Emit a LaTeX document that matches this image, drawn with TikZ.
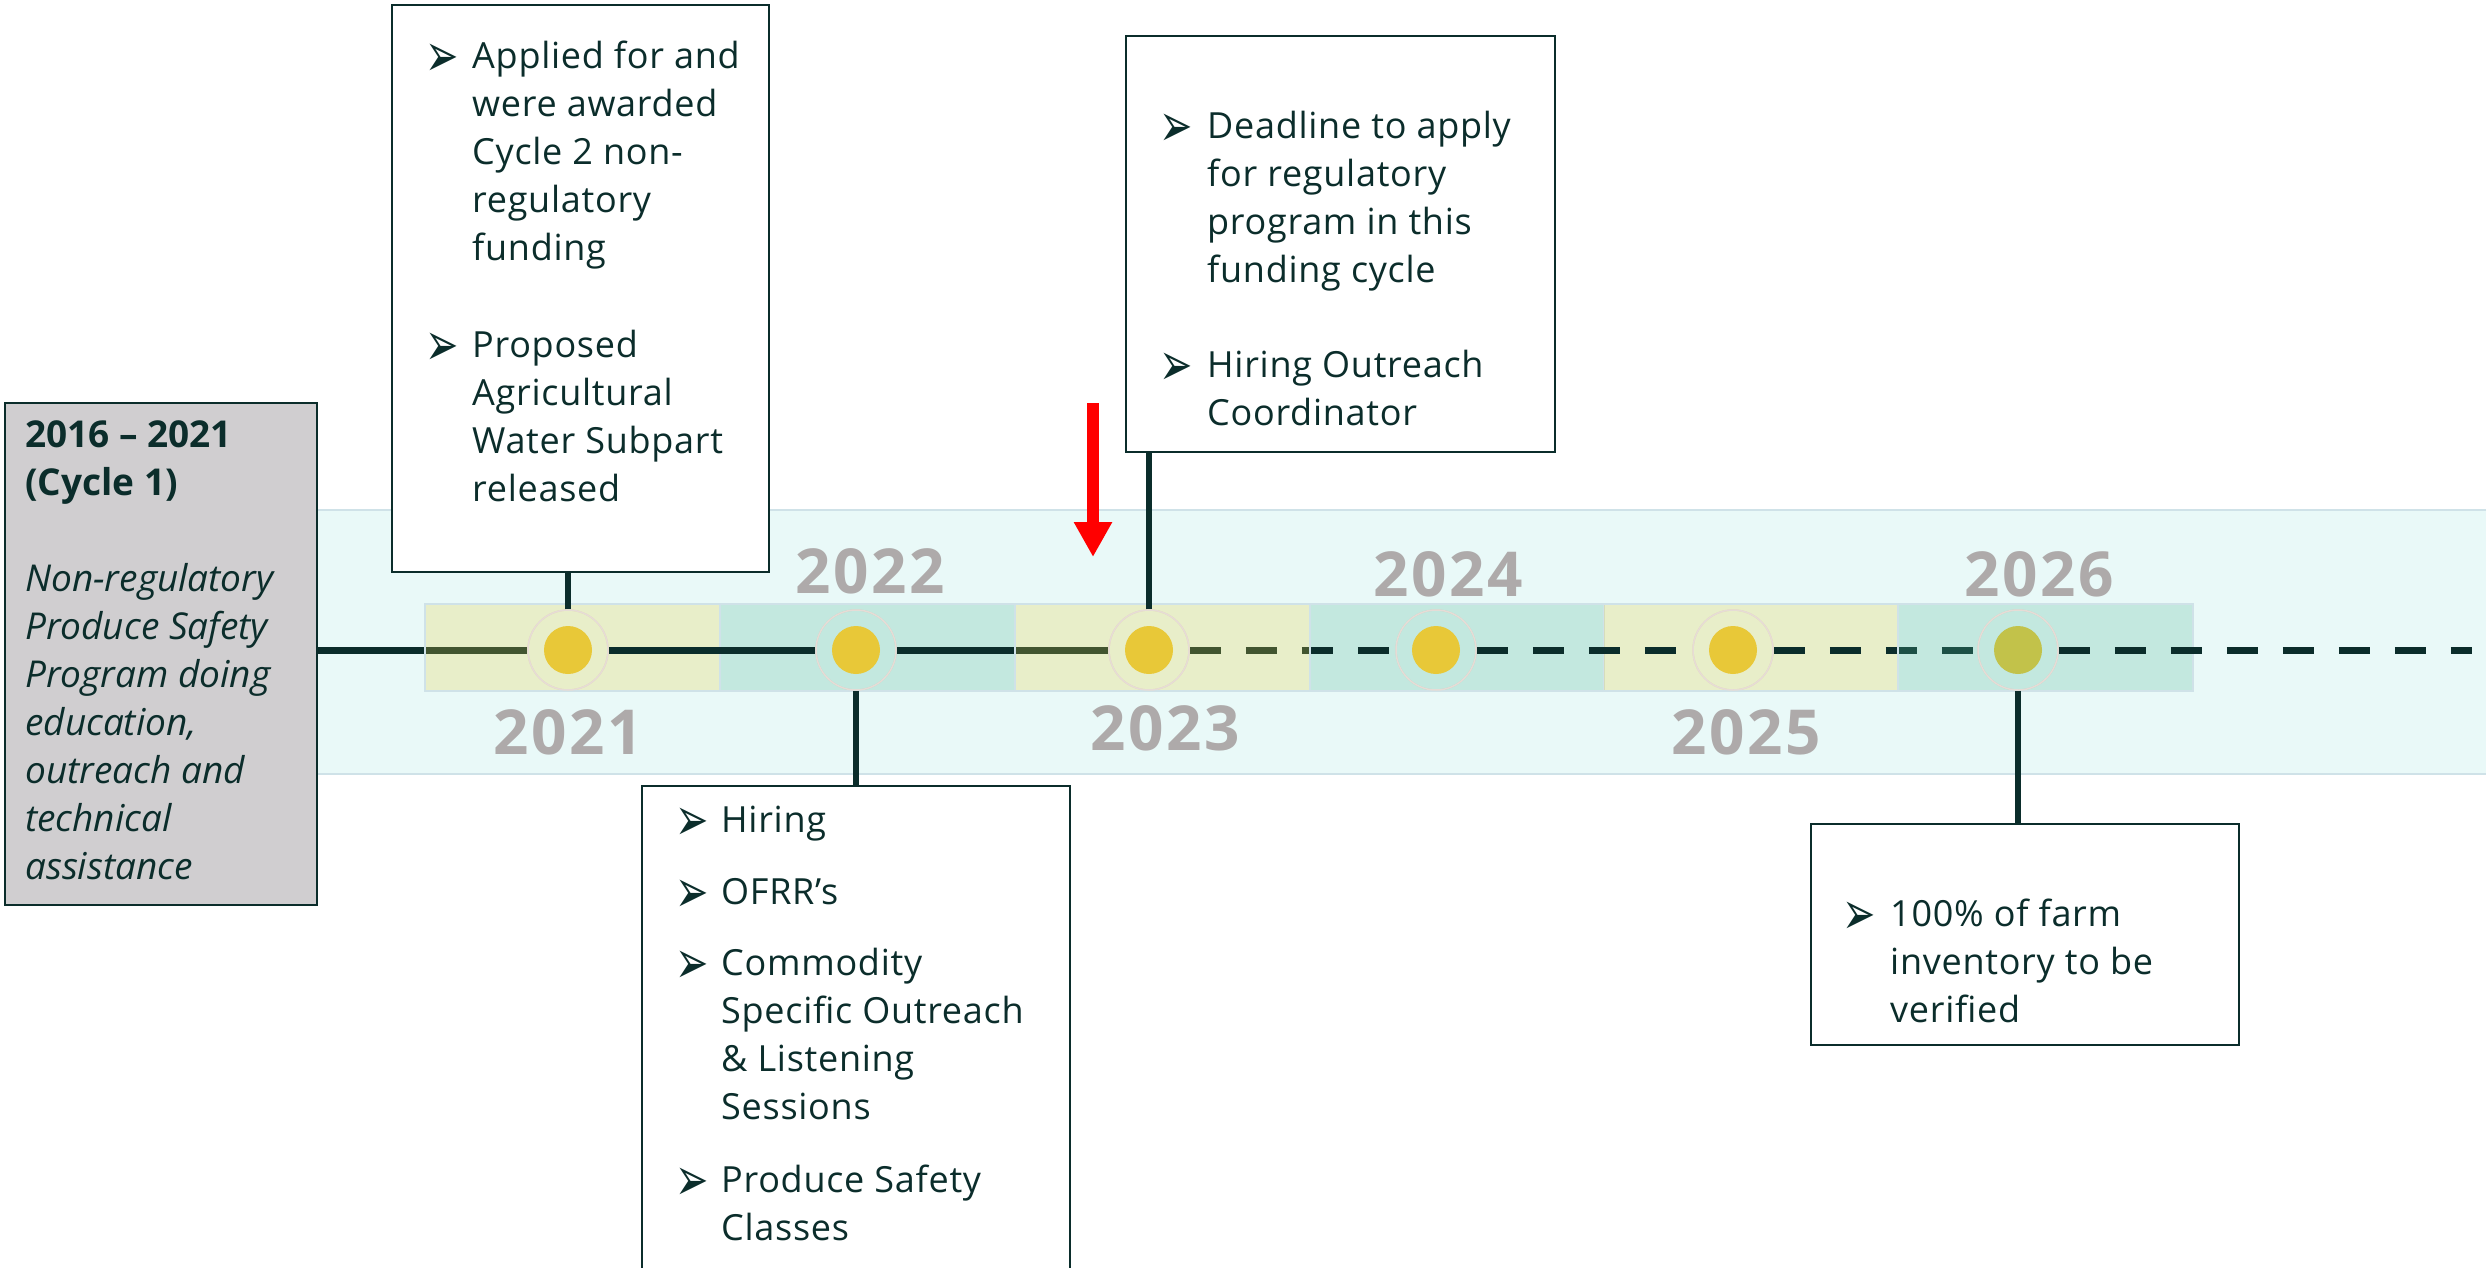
\documentclass[tikz,border=0pt]{standalone}
\usepackage{fontspec}
\setmainfont{Open Sans}
\newfontfamily\bulfont{DejaVu Sans}
\usetikzlibrary{arrows.meta}
\definecolor{ink}{HTML}{0B2D2B}
\definecolor{band}{HTML}{E9F9F8}
\definecolor{bandedge}{HTML}{CFE2E8}
\definecolor{yel}{HTML}{E8D040}
\definecolor{tealc}{HTML}{55B998}
\definecolor{dotyel}{HTML}{E8C838}
\definecolor{dotolive}{HTML}{C2C24A}
\definecolor{yeartxt}{HTML}{AEAAAA}
\definecolor{grayfill}{HTML}{D0CED0}
\definecolor{haloc}{HTML}{E6DCD6}
\definecolor{redarrow}{HTML}{FF0000}
\newcommand\tllines[1]{\vtop{\halign{##\hfil\cr#1\crcr}}}
\newcommand\bitem[2][47pt]{\hbox{\makebox[#1][l]{\raisebox{-8pt}{\scalebox{0.95}[1.45]{\bulfont\fontsize{42}{42}\selectfont ➢}}}\tllines{#2}}}
\tikzset{
  card/.style={draw=ink, line width=2pt, fill=white, inner sep=0pt},
  txt/.style={anchor=base west, inner sep=0pt, text=ink, font=\fontsize{36}{48}\selectfont\addfontfeature{LetterSpace=2}},
  yearbox/.style={minimum width=295pt, minimum height=87pt, inner sep=0pt, draw=bandedge, line width=1.5pt, fill opacity=.25},
  halo/.style={circle, minimum size=80pt, inner sep=0pt, draw=haloc, line width=1.5pt},
  yeardot/.style={circle, minimum size=48pt, inner sep=0pt, fill=dotyel},
  tl/.style={line width=7pt, draw=ink},
  tldash/.style={tl, dash pattern=on 31pt off 25pt},
  conn/.style={line width=6.5pt, draw=ink},
  yearlbl/.style={text=yeartxt, font=\fontsize{62}{62}\selectfont\bfseries\addfontfeature{LetterSpace=4}, inner sep=0pt},
}
\begin{document}
\begin{tikzpicture}[x=1pt,y=-1pt]
\useasboundingbox (0,0) rectangle (2486,1267);
\clip (0,0) rectangle (2486,1267);
% band
\fill[band] (317,510) rectangle (2486,774);
\draw[bandedge, line width=2pt] (317,510) -- (2486,510);
\draw[bandedge, line width=2pt] (317,774) -- (2486,774);
% halos (define positions)
\node[halo] (h21) at (568,650) {};
\node[halo] (h22) at (856,650) {};
\node[halo] (h23) at (1149,650) {};
\node[halo] (h24) at (1436,650) {};
\node[halo] (h25) at (1733,650) {};
\node[halo] (h26) at (2018,650) {};
% gray box (node defined early for line start)
\node[draw=ink, line width=2pt, fill=grayfill, minimum width=312pt, minimum height=502pt, inner sep=0pt] (gray) at (161,654) {};
\coordinate (tlend) at (2472,650);
% segments under boxes
\draw[tl] (gray.east |- h21) -- (h21);
\node[yearbox, fill=yel] (y21) at (572.5,647.5) {};
\node[yearbox, fill=tealc] (y22) at (867.5,647.5) {};
\node[yearbox, fill=tealc] (y24) at (1457,647.5) {};
\node[yearbox, fill=yel] (y25) at (1751,647.5) {};
\draw[tl] (h22) -- (h23);
\draw[tldash] (h23) -- (h24);
\draw[tldash] (h25) -- (h26);
\node[yearbox, fill=yel] (y23) at (1162.5,647.5) {};
\node[yearbox, fill=tealc] (y26) at (2045.5,647.5) {};
\draw[tl] (h21) -- (h22);
\draw[tldash] (h24) -- (h25);
\draw[tldash] (h26) -- (tlend);
% halos redrawn on top, dots
\foreach \n in {h21,h22,h23,h24,h25,h26}{\draw[haloc, line width=1.5pt] (\n) circle (40pt);}
\node[yeardot] (d21) at (h21) {};
\node[yeardot] (d22) at (h22) {};
\node[yeardot] (d23) at (h23) {};
\node[yeardot] (d24) at (h24) {};
\node[yeardot] (d25) at (h25) {};
\node[yeardot, fill=dotolive] (d26) at (h26) {};
% year labels
\node[yearlbl] (l21) at (568,732) {2021};
\node[yearlbl] (l22) at (870,571) {2022};
\node[yearlbl] (l23) at (1165,728) {2023};
\node[yearlbl] (l24) at (1448,574) {2024};
\node[yearlbl] (l25) at (1746,732) {2025};
\node[yearlbl] (l26) at (2039,574) {2026};
% cards
\node[card, minimum width=377pt, minimum height=567pt] (b1) at (580.5,288.5) {};
\node[card, minimum width=429pt, minimum height=416pt] (b2) at (1340.5,244) {};
\node[card, minimum width=428pt, minimum height=504pt] (b3) at (856,1038) {};
\node[card, minimum width=428pt, minimum height=221pt] (b4) at (2025,934.5) {};
% connectors
\draw[conn] (h21.north) -- (h21.north |- b1.south);
\draw[conn] (h22.south) -- (h22.south |- b3.north);
\draw[conn] (h23.north) -- (h23.north |- b2.south);
\draw[conn] (h26.south) -- (h26.south |- b4.north);
% card texts
\node[txt] (t1a) at (425,68) {\bitem{Applied for and\cr were awarded\cr Cycle 2 non-\cr regulatory\cr funding}};
\node[txt] (t1b) at (425,357) {\bitem{Proposed\cr Agricultural\cr Water Subpart\cr released}};
\node[txt] (t2a) at (1159,138) {\bitem[48pt]{Deadline to apply\cr for regulatory\cr program in this\cr funding cycle}};
\node[txt] (t2b) at (1159,377) {\bitem[48pt]{Hiring Outreach\cr Coordinator}};
\node[txt] (t3a) at (675,832) {\bitem[46pt]{Hiring}};
\node[txt] (t3b) at (675,904) {\bitem[46pt]{OFRR’s}};
\node[txt] (t3c) at (675,975) {\bitem[46pt]{Commodity\cr Specific Outreach\cr \& Listening\cr Sessions}};
\node[txt] (t3d) at (675,1192) {\bitem[46pt]{Produce Safety\cr Classes}};
\node[txt] (t4a) at (1842,926) {\bitem[48pt]{100\% of farm\cr inventory to be\cr verified}};
% gray box text
\node[txt, font=\fontsize{37}{48}\selectfont\bfseries] (g1) at (25,447) {\tllines{2016 – 2021\cr (Cycle 1)}};
\node[txt, font=\fontsize{37}{48}\selectfont\itshape] (g2) at (25,591) {\tllines{Non-regulatory\cr Produce Safety\cr Program doing\cr education,\cr outreach and\cr technical\cr assistance}};
% red arrow
\coordinate (rtop) at (1093,403);
\coordinate (rtip) at (1093,557);
\draw[redarrow, line width=12pt, -{Triangle[width=36pt,length=35pt]}] (rtop) -- (rtip);
\end{tikzpicture}
\end{document}
